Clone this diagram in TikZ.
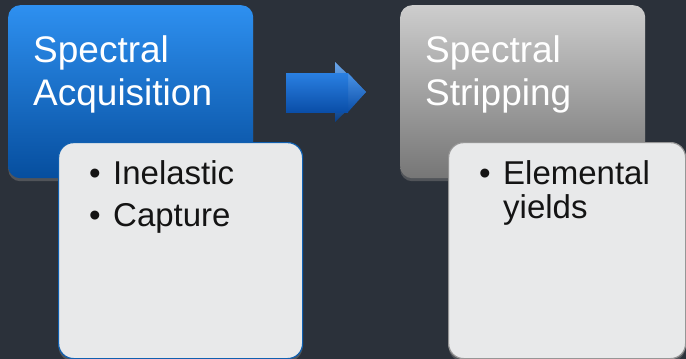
\documentclass[tikz,border=0pt]{standalone}
\usepackage{fontspec}
\setmainfont{Liberation Sans}
\usetikzlibrary{shadows}
\definecolor{bgc}{RGB}{43,49,58}
\definecolor{blueTop}{RGB}{46,144,240}
\definecolor{blueBot}{RGB}{6,78,158}
\definecolor{grayTop}{RGB}{205,205,205}
\definecolor{grayBot}{RGB}{118,118,118}
\definecolor{subFill}{RGB}{232,233,234}
\definecolor{subBlue}{RGB}{16,96,176}
\definecolor{subGray}{RGB}{150,150,150}
\definecolor{arrTop}{RGB}{42,128,226}
\definecolor{arrBot}{RGB}{10,78,168}
\begin{document}
\begin{tikzpicture}[x=1pt,y=-1pt,
  mainbox/.style={rectangle, rounded corners=12pt, anchor=north west, inner sep=0,
    minimum width=245pt, minimum height=173pt,
    drop shadow={opacity=0.45, shadow xshift=0pt, shadow yshift=-3pt}},
  subbox/.style={rectangle, rounded corners=15pt, anchor=north west, inner sep=0,
    fill=subFill, line width=1.2pt, minimum height=216pt,
    drop shadow={opacity=0.45, shadow xshift=0pt, shadow yshift=-3pt}},
  title/.style={anchor=north west, inner sep=0, align=left, text=white,
    font=\fontsize{37}{43}\selectfont},
  bullets/.style={anchor=north west, inner sep=0, align=left, text=black!92}
]
\useasboundingbox[fill=bgc] (0,0) rectangle (686,359);

% left group
\node[mainbox, top color=blueTop, bottom color=blueBot, minimum width=245pt] (b1) at (8,5) {};
\node[title] (t1) at (33,35) {Spectral\\Acquisition};
\node[subbox, draw=subBlue, minimum width=244pt] (s1) at (58,142) {};
\node[bullets, font=\fontsize{33}{42}\selectfont] (l1) at (89,160.5)
  {\makebox[24pt][l]{•}Inelastic\\\makebox[24pt][l]{•}Capture};

% arrow
\shade[top color=arrTop!70!white, bottom color=arrBot!80!black]
  (335,62) -- (366,92) -- (335,122) -- cycle;
\shade[top color=arrTop!85!white, bottom color=arrBot]
  (335,73) -- (348,73) -- (366,92) -- (348,112) -- (335,112) -- cycle;
\shade[top color=arrTop, bottom color=arrBot]
  (286,73) rectangle (348,112);

% right group
\node[mainbox, top color=grayTop, bottom color=grayBot] (b2) at (400,5) {};
\node[title] (t2) at (425,35) {Spectral\\Stripping};
\node[subbox, draw=subGray, minimum width=237pt] (s2) at (448,142) {};
\node[bullets, font=\fontsize{33}{34}\selectfont] (l2) at (479,160.5)
  {\makebox[24pt][l]{•}Elemental\\\makebox[24pt][l]{}yields};
\end{tikzpicture}
\end{document}
